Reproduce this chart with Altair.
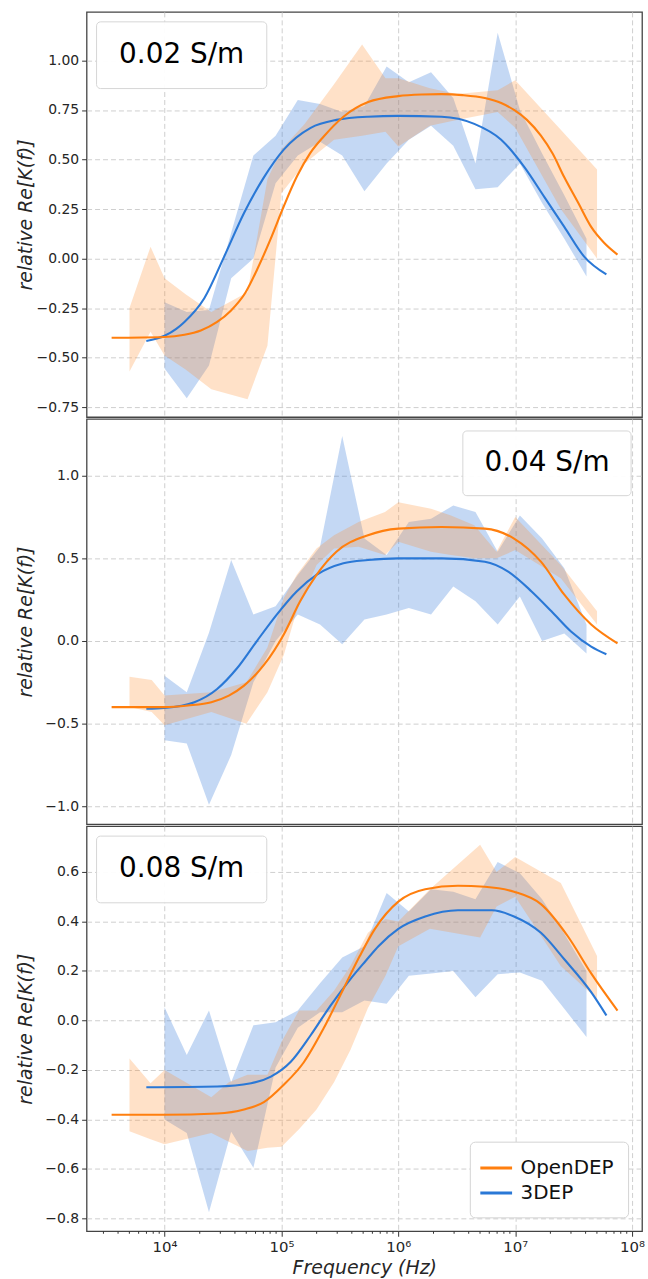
import altair as alt
import pandas as pd

# ---------------- data (frequency given as log10(Hz)) ----------------
SERIES = ["OpenDEP", "3DEP"]
LABELS = ["0.02 S/m", "0.04 S/m", "0.08 S/m"]
Y_TITLE = "relative Re[K(f)]"
X_TITLE = "Frequency (Hz)"
X_MAJOR_EXP = [4, 5, 6, 7, 8]
X_MAJOR_TEXT = ["10⁴", "10⁵", "10⁶", "10⁷", "10⁸"]

DEP_BAND_LOGF = [4.0, 4.19, 4.38, 4.57, 4.76, 4.95, 5.14, 5.33, 5.52, 5.71,
                 5.90, 6.09, 6.28, 6.47, 6.66, 6.85, 7.04, 7.23, 7.42, 7.61]

# panel 1 : 0.02 S/m
P1_YTICKS = [-0.75, -0.5, -0.25, 0.0, 0.25, 0.5, 0.75, 1.0]
P1_OPEN_FIT_LOGF = [3.547, 4.0, 4.17, 4.31, 4.45, 4.567, 4.694, 4.793, 4.906, 5.02, 5.133, 5.246, 5.36, 5.53, 5.742,
                    6.0, 6.2, 6.37, 6.55, 6.74, 6.88, 6.99, 7.1, 7.22, 7.32, 7.42, 7.54, 7.65, 7.76, 7.875]
P1_OPEN_FIT = [-0.40, -0.396, -0.385, -0.363, -0.32, -0.263, -0.17, -0.054, 0.097, 0.264, 0.415, 0.532, 0.615, 0.716, 0.79,
               0.82, 0.828, 0.83, 0.825, 0.81, 0.785, 0.75, 0.70, 0.62, 0.53, 0.41, 0.28, 0.16, 0.08, 0.02]
P1_DEP_FIT_LOGF = [3.844, 4.0, 4.1, 4.17, 4.34, 4.51, 4.68, 4.85, 5.02, 5.25, 5.47, 5.74, 6.0, 6.37, 6.65, 6.88,
                   7.08, 7.25, 7.42, 7.59, 7.78]
P1_DEP_FIT = [-0.416, -0.39, -0.355, -0.32, -0.20, 0.01, 0.23, 0.41, 0.55, 0.66, 0.70, 0.716, 0.72, 0.716, 0.68, 0.60,
              0.46, 0.31, 0.16, 0.01, -0.08]
P1_DEP_HI = [-0.22, -0.27, -0.26, 0.13, 0.52, 0.62, 0.80, 0.78, 0.74, 0.77, 0.97, 0.89, 0.94, 0.81, 0.48, 1.14,
             0.75, 0.53, 0.32, 0.10]
P1_DEP_LO = [-0.555, -0.705, -0.54, -0.10, 0.0, 0.38, 0.52, 0.59, 0.52, 0.34, 0.48, 0.60, 0.67, 0.57, 0.35, 0.36,
             0.48, 0.28, 0.10, -0.09]
P1_OPEN_BAND_LOGF = [3.70, 3.88, 4.0, 4.18, 4.40, 4.71, 4.88, 5.0, 5.2, 5.45, 5.69, 5.89, 6.0, 6.27, 6.5, 6.85,
                     7.0, 7.39, 7.70]
P1_OPEN_HI = [-0.25, 0.06, -0.10, -0.18, -0.27, -0.17, 0.40, 0.55, 0.68, 0.88, 1.08, 0.91, 0.91, 0.86, 0.83, 0.85,
              0.90, 0.65, 0.45]
P1_OPEN_LO = [-0.57, -0.37, -0.49, -0.56, -0.66, -0.71, -0.44, 0.33, 0.48, 0.60, 0.62, 0.64, 0.565, 0.67, 0.70, 0.74,
              0.66, 0.25, 0.00]

# panel 2 : 0.04 S/m
P2_YTICKS = [-1.0, -0.5, 0.0, 0.5, 1.0]
P2_OPEN_FIT_LOGF = [3.547, 4.0, 4.2, 4.40, 4.55, 4.68, 4.85, 5.02, 5.16, 5.30, 5.47, 5.74, 6.0, 6.37, 6.74, 6.99,
                    7.22, 7.42, 7.65, 7.875]
P2_OPEN_FIT = [-0.40, -0.40, -0.39, -0.37, -0.33, -0.27, -0.145, 0.04, 0.24, 0.40, 0.54, 0.64, 0.68, 0.69, 0.68, 0.62,
               0.48, 0.28, 0.10, -0.014]
P2_DEP_FIT_LOGF = [3.844, 4.0, 4.255, 4.45, 4.62, 4.79, 4.96, 5.13, 5.30, 5.53, 5.74, 6.0, 6.37, 6.74, 6.94, 7.14,
                   7.31, 7.48, 7.65, 7.78]
P2_DEP_FIT = [-0.41, -0.405, -0.37, -0.29, -0.165, 0.0, 0.16, 0.30, 0.40, 0.47, 0.49, 0.50, 0.50, 0.48, 0.42, 0.30,
              0.18, 0.056, -0.034, -0.08]
P2_DEP_HI = [-0.21, -0.31, 0.05, 0.49, 0.16, 0.21, 0.40, 0.57, 1.24, 0.62, 0.52, 0.72, 0.74, 0.82, 0.78, 0.54,
             0.76, 0.62, 0.44, 0.10]
P2_DEP_LO = [-0.60, -0.62, -0.99, -0.69, -0.25, 0.0, 0.16, 0.10, -0.02, 0.13, 0.16, 0.20, 0.16, 0.33, 0.24, 0.10,
             0.27, 0.0, 0.046, -0.075]
P2_OPEN_BAND_LOGF = [3.70, 3.89, 4.0, 4.40, 4.70, 4.88, 5.02, 5.13, 5.30, 5.45, 5.66, 5.886, 6.0, 6.28, 6.45, 6.65,
                     6.84, 7.0, 7.39, 7.70]
P2_OPEN_HI = [-0.216, -0.236, -0.33, -0.31, -0.25, -0.04, 0.26, 0.40, 0.56, 0.64, 0.72, 0.78, 0.84, 0.80, 0.76, 0.70,
              0.54, 0.75, 0.46, 0.18]
P2_OPEN_LO = [-0.40, -0.43, -0.51, -0.43, -0.50, -0.31, -0.085, 0.18, 0.46, 0.56, 0.57, 0.52, 0.60, 0.54, 0.52, 0.50,
              0.50, 0.55, 0.38, 0.10]

# panel 3 : 0.08 S/m
P3_YTICKS = [-0.8, -0.6, -0.4, -0.2, 0.0, 0.2, 0.4, 0.6]
P3_OPEN_FIT_LOGF = [3.547, 4.0, 4.45, 4.68, 4.85, 5.02, 5.19, 5.36, 5.53, 5.67, 5.80, 6.0, 6.23, 6.51, 6.74, 6.99,
                    7.22, 7.45, 7.65, 7.875]
P3_OPEN_FIT = [-0.381, -0.381, -0.376, -0.36, -0.33, -0.26, -0.17, -0.033, 0.127, 0.26, 0.37, 0.48, 0.53, 0.544, 0.54,
               0.52, 0.47, 0.34, 0.19, 0.04]
P3_DEP_FIT_LOGF = [3.844, 4.45, 4.74, 4.91, 5.08, 5.25, 5.42, 5.59, 5.72, 5.83, 6.0, 6.23, 6.51, 6.80, 6.99, 7.22,
                   7.42, 7.65, 7.78]
P3_DEP_FIT = [-0.27, -0.267, -0.254, -0.227, -0.167, -0.06, 0.06, 0.167, 0.24, 0.30, 0.37, 0.42, 0.445, 0.445, 0.42,
              0.354, 0.247, 0.114, 0.02]
P3_DEP_HI = [0.053, -0.14, 0.04, -0.25, -0.02, -0.007, 0.04, 0.15, 0.254, 0.30, 0.515, 0.44, 0.53, 0.52, 0.49, 0.64,
             0.595, 0.49, 0.35, 0.20]
P3_DEP_LO = [-0.40, -0.455, -0.775, -0.45, -0.595, -0.19, -0.03, 0.033, 0.033, 0.08, 0.067, 0.18, 0.19, 0.20, 0.094,
             0.187, 0.194, 0.16, 0.047, -0.067]
P3_OPEN_BAND_LOGF = [3.70, 3.88, 4.0, 4.40, 4.55, 4.71, 4.88, 5.0, 5.15, 5.30, 5.45, 5.59, 5.74, 5.89, 6.0, 6.27,
                     6.70, 6.84, 7.0, 7.39, 7.70]
P3_OPEN_HI = [-0.154, -0.254, -0.20, -0.31, -0.25, -0.22, -0.22, -0.087, 0.04, 0.04, 0.12, 0.22, 0.354, 0.41, 0.40,
              0.53, 0.71, 0.60, 0.66, 0.555, 0.26]
P3_OPEN_LO = [-0.448, -0.48, -0.50, -0.455, -0.49, -0.528, -0.515, -0.51, -0.44, -0.36, -0.25, -0.12, 0.05, 0.18,
              0.30, 0.37, 0.335, 0.46, 0.50, 0.22, 0.087]

# ---------------- styling / layout ----------------
W, H = 558, 407
FONT = "DejaVu Sans"
ORANGE = "#ff7f0e"
BLUE = "#2a78d6"
BLUE_FILL = "#3a7fdc"
ORANGE_FILL = "#ff8a2a"
X_DOMAIN = [10 ** 3.333, 10 ** 8.085]
Y_DOMAINS = [[-0.80, 1.245], [-1.108, 1.343], [-0.852, 0.785]]
Y_FORMATS = [".2f", ".1f", ".1f"]
# label box positions in panel pixels: (x, x2, y, y2, text_x, text_y)
BOX_POS = [(10, 181, 10, 77, 95.5, 43.5), (378, 547, 12, 77, 462.5, 44.5), (10, 181, 10, 77, 95.5, 43.5)]

X_MAJOR = [10.0 ** e for e in X_MAJOR_EXP]
X_MINOR = [k * 10.0 ** e for e in range(3, 8) for k in range(2, 10)
           if X_DOMAIN[0] <= k * 10.0 ** e <= X_DOMAIN[1]]
LABEL_EXPR = " : ".join(
    f"datum.value == {v:.0f} ? '{t}'" for v, t in zip(X_MAJOR, X_MAJOR_TEXT)) + " : ''"

PANELS = [
    dict(yt=P1_YTICKS, of=(P1_OPEN_FIT_LOGF, P1_OPEN_FIT), df=(P1_DEP_FIT_LOGF, P1_DEP_FIT),
         db=(DEP_BAND_LOGF, P1_DEP_LO, P1_DEP_HI), ob=(P1_OPEN_BAND_LOGF, P1_OPEN_LO, P1_OPEN_HI)),
    dict(yt=P2_YTICKS, of=(P2_OPEN_FIT_LOGF, P2_OPEN_FIT), df=(P2_DEP_FIT_LOGF, P2_DEP_FIT),
         db=(DEP_BAND_LOGF, P2_DEP_LO, P2_DEP_HI), ob=(P2_OPEN_BAND_LOGF, P2_OPEN_LO, P2_OPEN_HI)),
    dict(yt=P3_YTICKS, of=(P3_OPEN_FIT_LOGF, P3_OPEN_FIT), df=(P3_DEP_FIT_LOGF, P3_DEP_FIT),
         db=(DEP_BAND_LOGF, P3_DEP_LO, P3_DEP_HI), ob=(P3_OPEN_BAND_LOGF, P3_OPEN_LO, P3_OPEN_HI)),
]


def band_df(logf, lo, hi):
    return pd.DataFrame({"f": [10 ** v for v in logf], "lo": lo, "hi": hi})


def fit_df(logf, vals, name):
    return pd.DataFrame({"f": [10 ** v for v in logf], "v": vals, "series": name})


def make_panel(i):
    p = PANELS[i]
    bottom = i == len(PANELS) - 1
    if bottom:
        x_axis = alt.Axis(values=X_MAJOR, labelExpr=LABEL_EXPR, title=X_TITLE, grid=True, ticks=True,
                          tickSize=5, domain=False, labelPadding=3, titlePadding=4, titleFontSize=19,
                          labelFontSize=15, labelFlush=False, labelOverlap=False)
    else:
        x_axis = alt.Axis(values=X_MAJOR, labels=False, ticks=False, title=None, grid=True, domain=False)
    xs = alt.Scale(type="log", domain=X_DOMAIN, nice=False)
    ys = alt.Scale(domain=Y_DOMAINS[i], nice=False, zero=False)
    y_axis = alt.Axis(values=p["yt"], format=Y_FORMATS[i], title=Y_TITLE, titleX=-61.5, titleY=H / 2,
                      titleAngle=270, titleAlign="center", titleBaseline="middle", grid=True,
                      domain=False, tickSize=5, labelPadding=3)
    X = alt.X("f:Q", scale=xs, axis=x_axis)

    blue_band = alt.Chart(band_df(*p["db"])).mark_area(color=BLUE_FILL, opacity=0.3).encode(
        x=X, y=alt.Y("lo:Q", scale=ys, axis=y_axis), y2="hi:Q")
    open_band = alt.Chart(band_df(*p["ob"])).mark_area(color=ORANGE_FILL, opacity=0.26).encode(
        x=X, y=alt.Y("lo:Q", scale=ys, axis=y_axis), y2="hi:Q")

    lines_df = pd.concat([fit_df(*p["df"], SERIES[1]), fit_df(*p["of"], SERIES[0])], ignore_index=True)
    legend = alt.Legend(title=None, orient="bottom-right", offset=14, fillColor="white",
                        strokeColor="#d4d4d4", cornerRadius=5, padding=14, labelFont=FONT,
                        labelFontSize=20, labelColor="#111111", symbolType="M-1.45,0L1.45,0",
                        symbolSize=484, symbolStrokeWidth=3, labelOffset=12, rowPadding=2) if bottom else None
    lines = alt.Chart(lines_df).mark_line(strokeWidth=2.1, interpolate="monotone").encode(
        x=X, y=alt.Y("v:Q", scale=ys, axis=y_axis),
        color=alt.Color("series:N", scale=alt.Scale(domain=SERIES, range=[ORANGE, BLUE]), legend=legend),
        order=alt.Order("f:Q"))

    bx, bx2, by, by2, tx, ty = BOX_POS[i]
    lab = pd.DataFrame({"label": [LABELS[i]]})
    box = alt.Chart(lab).mark_rect(fill="white", fillOpacity=0.95, stroke="#d6d6d6", strokeWidth=1,
                                   cornerRadius=4).encode(
        x=alt.value(bx), x2=alt.value(bx2), y=alt.value(by), y2=alt.value(by2))
    txt = alt.Chart(lab).mark_text(font=FONT, fontSize=28, color="#000000", align="center",
                                   baseline="middle").encode(
        x=alt.value(tx), y=alt.value(ty), text="label:N")

    layers = [blue_band, open_band, lines, box, txt]
    if bottom:
        minor = alt.Chart(pd.DataFrame({"f": X_MINOR})).mark_rule(color="#333333", strokeWidth=1).encode(
            x=X, y=alt.value(H), y2=alt.value(H + 2.5))
        layers.append(minor)
    return alt.layer(*layers).properties(width=W, height=H)


chart = alt.vconcat(*[make_panel(i) for i in range(3)], spacing=0).resolve_scale(
    x="independent", y="independent", color="independent").resolve_axis(
    x="independent", y="independent").configure(
    padding={"left": 15, "top": 8, "right": 2, "bottom": 0}, font=FONT).configure_view(
    stroke="#444444", strokeWidth=1.3).configure_axis(
    labelFont=FONT, labelFontSize=14, labelColor="#262626", titleFont=FONT, titleFontSize=19,
    titleFontStyle="italic", titleFontWeight="normal", titleColor="#262626", tickColor="#333333",
    gridColor="#cfcfcf", gridDash=[5, 3], gridWidth=1)

chart.save("out.html", embed_options={"renderer": "svg", "actions": False})
